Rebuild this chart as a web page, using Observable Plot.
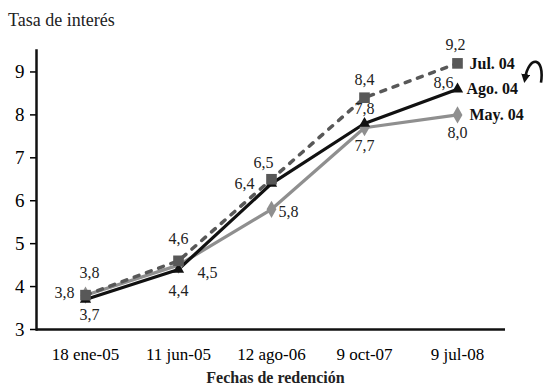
<!DOCTYPE html>
<html><head><meta charset="utf-8">
<script src="https://cdn.jsdelivr.net/npm/d3@7"></script>
<script src="https://cdn.jsdelivr.net/npm/@observablehq/plot@0.6"></script>
<style>
body{margin:0;background:#fff;font-family:'Liberation Serif','Times New Roman',serif;}
#wrap{width:543px;height:388px;position:relative;overflow:hidden;}
#title{padding:4px 0 0 8px;line-height:32px;height:32px;font-size:18px;color:#222;}
#xlab{position:absolute;left:0;top:369px;width:543px;text-align:center;font-weight:bold;font-size:16px;line-height:18px;color:#222;padding-left:8px;box-sizing:border-box;}
</style></head>
<body><div id="wrap"><div id="title">Tasa de interés</div><div id="chart"></div><div id="xlab">Fechas de redención</div></div>
<script>
const fechas = ["18 ene-05","11 jun-05","12 ago-06","9 oct-07","9 jul-08"];
const jul04 = [3.8, 4.6, 6.5, 8.4, 9.2];
const ago04 = [3.7, 4.4, 6.4, 7.8, 8.6];
const may04 = [3.8, 4.5, 5.8, 7.7, 8.0];
const seriesNames = ["Jul. 04", "Ago. 04", "May. 04"];
const yTicks = [3,4,5,6,7,8,9];

const rows = (name, vals) => vals.map((v,i) => ({serie:name, fecha:fechas[i], v, i}));
const dJul = rows(seriesNames[0], jul04);
const dAgo = rows(seriesNames[1], ago04);
const dMay = rows(seriesNames[2], may04);
const fmt = d => d.v.toFixed(1).replace(".", ",");

const cJul = "#585858", cAgo = "#111111", cMay = "#8f8f8f";
const FONT = "'Liberation Serif', 'Times New Roman', serif";

// label offsets [dx, dy] per point
const offJul = [[4,-22],[0,-22],[-8,-16],[0,-18],[-2,-19]];
const offAgo = [[4,15],[0,21],[-27,0],[0,-15],[-14,-6]];
const offMay = [[-21,-2],[29,8],[17,3],[0,18],[0,18]];

const labelMarks = [];
[[dJul,offJul],[dAgo,offAgo],[dMay,offMay]].forEach(([d,offs]) => {
  d.forEach((row, k) => {
    labelMarks.push(Plot.text([row], {x:"fecha", y:"v", text: fmt, dx: offs[k][0], dy: offs[k][1], fontSize:16, fill:"#222"}));
  });
});

const last = a => [a[a.length-1]];

const plot = Plot.plot({
  width: 543,
  height: 334,
  marginLeft: 36,
  marginRight: 38,
  marginTop: 14,
  marginBottom: 41,
  style: {fontFamily: FONT, background: "#fff", overflow: "visible"},
  x: {type: "point", domain: fechas, padding: 0.5, label: null},
  y: {domain: [3, 9.5], label: null},
  marks: [
    Plot.axisY({ticks: yTicks, tickSize: 6, tickPadding: 6, fontSize: 19, strokeWidth: 1.5, label: null, tickFormat: d => String(d)}),
    Plot.axisX({tickSize: 0, tickPadding: 18, fontSize: 17, label: null}),
    Plot.ruleY([3], {strokeWidth: 2.5, stroke: "#111"}),
    Plot.frame({anchor: "left", strokeWidth: 2.5, stroke: "#111"}),
    Plot.line(dMay, {x:"fecha", y:"v", stroke: cMay, strokeWidth: 3.2}),
    Plot.line(dJul, {x:"fecha", y:"v", stroke: cJul, strokeWidth: 3.5, strokeDasharray: "5,8"}),
    Plot.line(dAgo, {x:"fecha", y:"v", stroke: cAgo, strokeWidth: 3.2}),
    Plot.dot(dMay, {x:"fecha", y:"v", symbol: "diamond", r: 5.2, fill: cMay, stroke: null}),
    Plot.dot(dAgo, {x:"fecha", y:"v", symbol: "triangle", r: 4.2, fill: cAgo, stroke: null}),
    Plot.dot(dJul, {x:"fecha", y:"v", symbol: "square", r: 6, fill: cJul, stroke: null}),
    ...labelMarks,
    Plot.text(last(dJul), {x:"fecha", y:"v", text: "serie", dx: 12, textAnchor: "start", fontWeight: "bold", fontSize: 16, fill:"#111"}),
    Plot.text(last(dAgo), {x:"fecha", y:"v", text: "serie", dx: 9, textAnchor: "start", fontWeight: "bold", fontSize: 16, fill:"#111"}),
    Plot.text(last(dMay), {x:"fecha", y:"v", text: "serie", dx: 12, textAnchor: "start", fontWeight: "bold", fontSize: 16, fill:"#111"})
  ]
});
document.getElementById("chart").appendChild(plot);

// decorative curved arrow next to the legend labels
const sx = plot.scale("x"), sy = plot.scale("y");
const ax = sx.apply(fechas[fechas.length-1]);
const ay = sy.apply(ago04[ago04.length-1]);
const svg = d3.select(plot);
const defs = svg.append("defs");
defs.append("marker").attr("id","ah").attr("viewBox","0 0 10 10").attr("refX",5).attr("refY",5)
  .attr("markerWidth",3.5).attr("markerHeight",3.5).attr("orient","auto-start-reverse")
  .append("path").attr("d","M0,0 L10,5 L0,10 z").attr("fill","#111");
svg.append("path")
  .attr("d", `M${ax+84},${ay-6} C${ax+88},${ay-32} ${ax+72},${ay-34} ${ax+68},${ay-10}`)
  .attr("fill","none").attr("stroke","#111").attr("stroke-width",2.6).attr("marker-end","url(#ah)");
</script>
</body></html>
